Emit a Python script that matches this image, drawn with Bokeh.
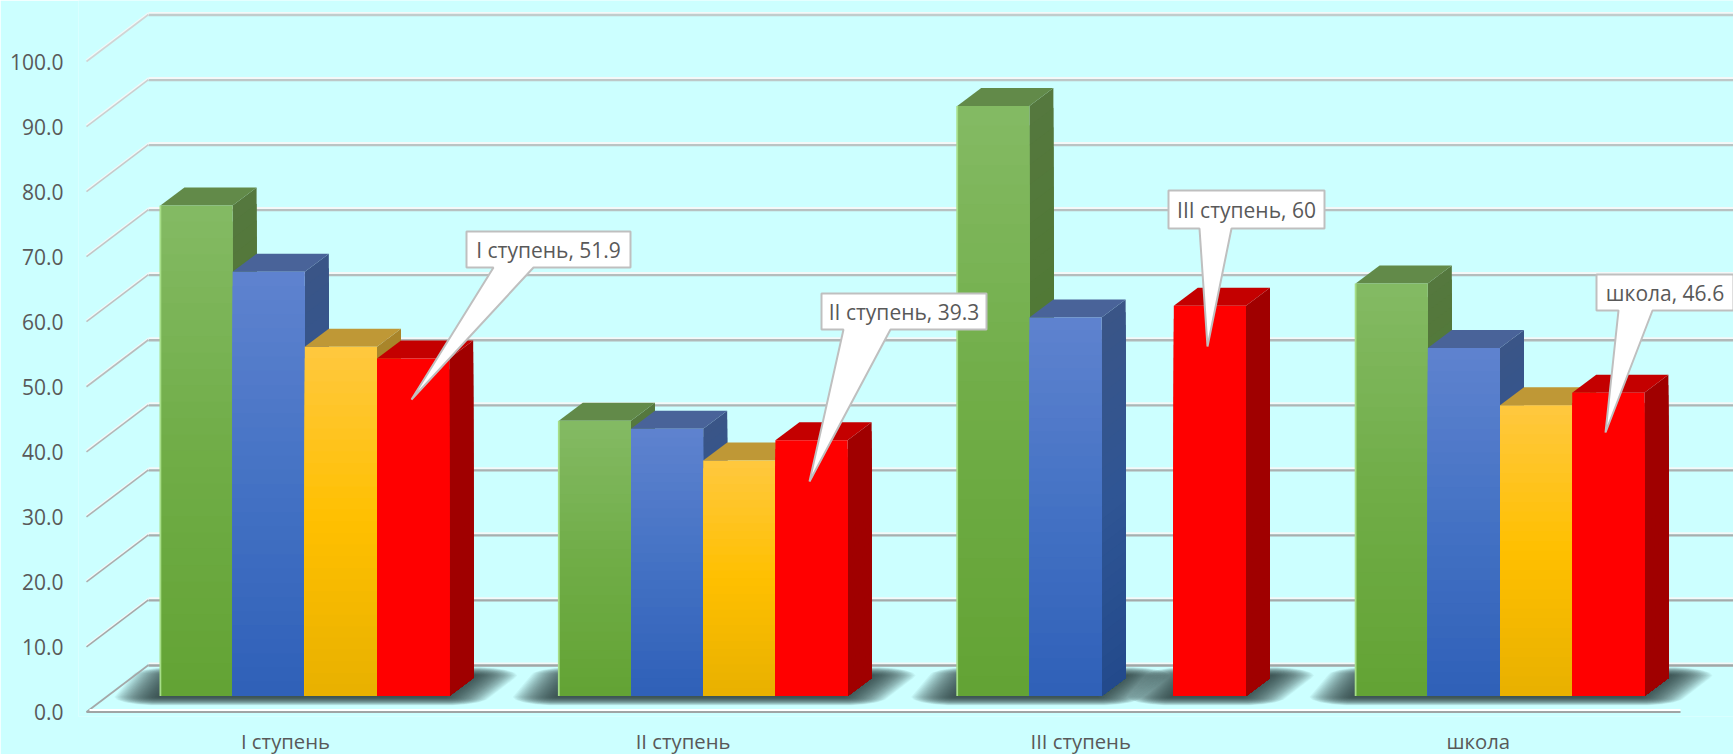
from bokeh.plotting import figure
from bokeh.models import ColumnDataSource, LinearAxis, Range1d, FixedTicker, NumeralTickFormatter
from bokeh.core.properties import value
from bokeh.embed import file_html
from bokeh.resources import INLINE
import math

# ---------- data ----------
categories = ["I ступень", "II ступень", "III ступень", "школа"]
series_green = [75.4, 42.3, 90.7, 63.4]
series_blue = [65.2, 41.1, 58.2, 53.5]
series_yellow = [53.7, 36.2, 0, 44.7]
series_red = [51.9, 39.3, 60, 46.6]
y_ticks = [0, 10, 20, 30, 40, 50, 60, 70, 80, 90, 100]

# ---------- layout (page pixels -> data) ----------
BG = "#CCFFFF"
FONT = "Open Sans"
TXT = "#595959"
FRAME_L, FRAME_T, FRAME_W, FRAME_H = 78, 0, 1655, 716
PX_X = 398.4       # pixels per category
PX_Y = 6.505       # pixels per value unit
X0, Y0 = 304.3, 695.5      # category 0 centre, value 0 of the bars
FX0, FXP = 285.0, 397.6    # category positions on the front plane
FY0 = 711.5                # value 0 on the front plane


def xp(px):
    return (px - X0) / PX_X


def yp(py):
    return (Y0 - py) / PX_Y


p = figure(width=1733, height=754, output_backend="svg", toolbar_location=None,
           x_range=Range1d(xp(FRAME_L), xp(FRAME_L + FRAME_W)),
           y_range=Range1d(yp(FRAME_T + FRAME_H), yp(FRAME_T)),
           x_axis_location=None, y_axis_location=None,
           min_border_left=78, min_border_right=0, min_border_top=0, min_border_bottom=38,
           background_fill_color=BG, border_fill_color=BG, outline_line_color=None)
p.frame_width = FRAME_W
p.frame_height = FRAME_H
p.grid.visible = False

p.extra_y_ranges["front"] = Range1d((FY0 - (FRAME_T + FRAME_H)) / PX_Y, (FY0 - FRAME_T) / PX_Y)
p.extra_x_ranges["front"] = Range1d((FRAME_L - FX0) / FXP, (FRAME_L + FRAME_W - FX0) / FXP)

yax = LinearAxis(y_range_name="front", ticker=FixedTicker(ticks=y_ticks),
                 formatter=NumeralTickFormatter(format="0.0"))
yax.axis_line_color = None
yax.major_tick_line_color = None
yax.minor_tick_line_color = None
yax.major_label_standoff = 9
yax.major_label_text_font = FONT
yax.major_label_text_font_size = "21px"
yax.major_label_text_color = TXT
p.add_layout(yax, "left")

xax = LinearAxis(x_range_name="front", ticker=FixedTicker(ticks=list(range(len(categories)))),
                 major_label_overrides={i: c for i, c in enumerate(categories)})
xax.axis_line_color = None
xax.major_tick_line_color = None
xax.minor_tick_line_color = None
xax.major_label_standoff = 4
xax.major_label_text_font = FONT
xax.major_label_text_font_size = "20.3px"
xax.major_label_text_color = TXT
p.add_layout(xax, "below")

# ---------- walls / grid ----------
W_L, W_R, F_L, F_R = 148, 1745, 86, 1680
WALL_Y0 = 664.5


def lerp_hex(a, b, t):
    ca = [int(a[i:i + 2], 16) for i in (1, 3, 5)]
    cb = [int(b[i:i + 2], 16) for i in (1, 3, 5)]
    return "#%02x%02x%02x" % tuple(round(u + (w - u) * t) for u, w in zip(ca, cb))


for v in y_ticks:
    wy = WALL_Y0 - v * PX_Y
    fy = FY0 - v * PX_Y
    t = v / 100
    grey = lerp_hex("#a2a6a6", "#c0cccc", t)
    p.line([xp(W_L), xp(W_R)], [yp(wy - 1.6)] * 2, line_color="#f4f8f8", line_width=2)
    p.line([xp(W_L), xp(W_R)], [yp(wy + 0.5)] * 2, line_color=grey, line_width=2.3)
    if v > 0:
        p.line([xp(F_L), xp(W_L)], [yp(fy - 1), yp(wy - 1)], line_color="#f4f8f8", line_width=2.4)
        p.line([xp(F_L), xp(W_L)], [yp(fy), yp(wy)], line_color=lerp_hex("#a0a4a4", "#d0d4d4", t), line_width=1.6)

# ---------- floor shadow ----------
bar_w = 72.2 / PX_X
depth_x = 24 / PX_X
depth_y = 18 / PX_Y
SHADOW_LAYERS = 30
SHADOW_R = 44
all_series = [series_green, series_blue, series_yellow, series_red]


def convex_hull(pts):
    pts = sorted(set(pts))

    def half(seq):
        out = []
        for q in seq:
            while len(out) > 1 and ((out[-1][0] - out[-2][0]) * (q[1] - out[-2][1])
                                    - (out[-1][1] - out[-2][1]) * (q[0] - out[-2][0])) <= 0:
                out.pop()
            out.append(q)
        return out[:-1]
    return half(pts) + half(pts[::-1])


def shadow(gl, gr):
    core = [(gl - 2, Y0 + 1), (gr - 4, Y0 + 1), (gr + 24, 675), (gl + 16, 675)]
    xs, ys = [], []
    for k in range(SHADOW_LAYERS):
        r = SHADOW_R * (1 - k / (SHADOW_LAYERS - 1))
        pts = []
        for cx, cy in core:
            for a in range(0, 360, 20):
                pts.append((cx + r * math.cos(math.radians(a)),
                            max(664.5, cy + 0.19 * r * math.sin(math.radians(a)))))
        hull = convex_hull(pts)
        xs.append([xp(a) for a, _ in hull])
        ys.append([yp(b) for _, b in hull])
    p.patches(xs, ys, fill_color="#2a3638", fill_alpha=0.055, line_color=None)


for g in range(len(categories)):
    run_start = None
    for s in range(5):
        present = s < 4 and bool(all_series[s][g])
        if present and run_start is None:
            run_start = s
        if not present and run_start is not None:
            shadow(X0 + (g + (run_start - 2) * bar_w) * PX_X, X0 + (g + (s - 2) * bar_w) * PX_X)
            run_start = None

# front floor edge
p.line([xp(F_L), xp(W_L)], [yp(FY0), yp(WALL_Y0)], line_color="#a4a8a8", line_width=1.8)
p.line([xp(F_L + 3), xp(F_R)], [yp(FY0 - 2)] * 2, line_color="#ffffff", line_width=2.2)
p.line([xp(F_L), xp(F_R)], [yp(FY0)] * 2, line_color="#a0a4a4", line_width=2)

# ---------- bars ----------
styles = [
    (series_green, ("#84BA64", "#70AD47", "#63A334"), "#628A49", ("#55783E", "#4F7A33", "#477529")),
    (series_blue, ("#5F83CF", "#4472C4", "#2F60B8"), "#496399", ("#3A5587", "#2F5594", "#234A8C")),
    (series_yellow, ("#FFC83F", "#FFC000", "#E8B000"), "#BF9836", ("#A9852B", "#B08800", "#A98000")),
    (series_red, ("#FF0000", "#FF0000", "#FF0000"), "#C40000", ("#A00000", "#A00000", "#A00000")),
]
N = 30


def grad(stops, t):
    return lerp_hex(stops[1], stops[0], (t - .5) * 2) if t >= .5 else lerp_hex(stops[2], stops[1], t * 2)


for g in range(len(categories)):
    for s, (vals, front, top, side) in enumerate(styles):
        v = vals[g]
        if not v:
            continue
        l = g + (s - 2) * bar_w
        r = l + bar_w
        ts = [(N - i) / N for i in range(N)]
        # side face
        p.patches([[r, r + depth_x, r + depth_x, r]] * N,
                  [[0, depth_y, v * t + depth_y, v * t] for t in ts],
                  fill_color=[grad(side, t - .5 / N) for t in ts], line_color=None)
        # top face
        p.patch([l, r, r + depth_x, l + depth_x], [v, v, v + depth_y, v + depth_y],
                fill_color=top, line_color=None)
        # front face
        src = ColumnDataSource(dict(left=[l] * N, right=[r] * N, bottom=[0] * N,
                                    top=[v * t for t in ts],
                                    color=[grad(front, t - .5 / N) for t in ts]))
        p.quad(left="left", right="right", bottom="bottom", top="top", source=src,
               fill_color="color", line_color=None)
        if s == 0:
            p.line([l, l], [0, v], line_color="#A6DE88", line_width=1.8)

# ---------- callouts ----------
# box left, top, right, bottom, wedge start, wedge end, tip x, tip y (page pixels)
callout_layout = [
    (466, 231, 630, 267, 493, 533, 411, 399),
    (821, 293, 986, 329, 843, 890, 809, 481),
    (1168, 190, 1324, 228, 1199, 1231, 1207, 346),
    (1596, 274, 1733, 310, 1618, 1652, 1605, 432),
]
for cat, v, (bl, bt, br, bb, w1, w2, tx, ty) in zip(categories, series_red, callout_layout):
    px_pts = [(bl, bt), (br, bt), (br, bb), (w2, bb), (tx, ty), (w1, bb), (bl, bb)]
    p.patch([xp(a) for a, _ in px_pts], [yp(b) for _, b in px_pts],
            fill_color="#FFFFFF", line_color="#BFBFBF", line_width=2)
    p.text([xp((bl + br) / 2)], [yp((bt + bb) / 2)], text=[f"{cat}, {v:g}"],
           text_font=value(FONT), text_font_size="21px", text_color=TXT,
           text_align="center", text_baseline="middle")

open("out.html", "w").write(file_html(p, INLINE))
